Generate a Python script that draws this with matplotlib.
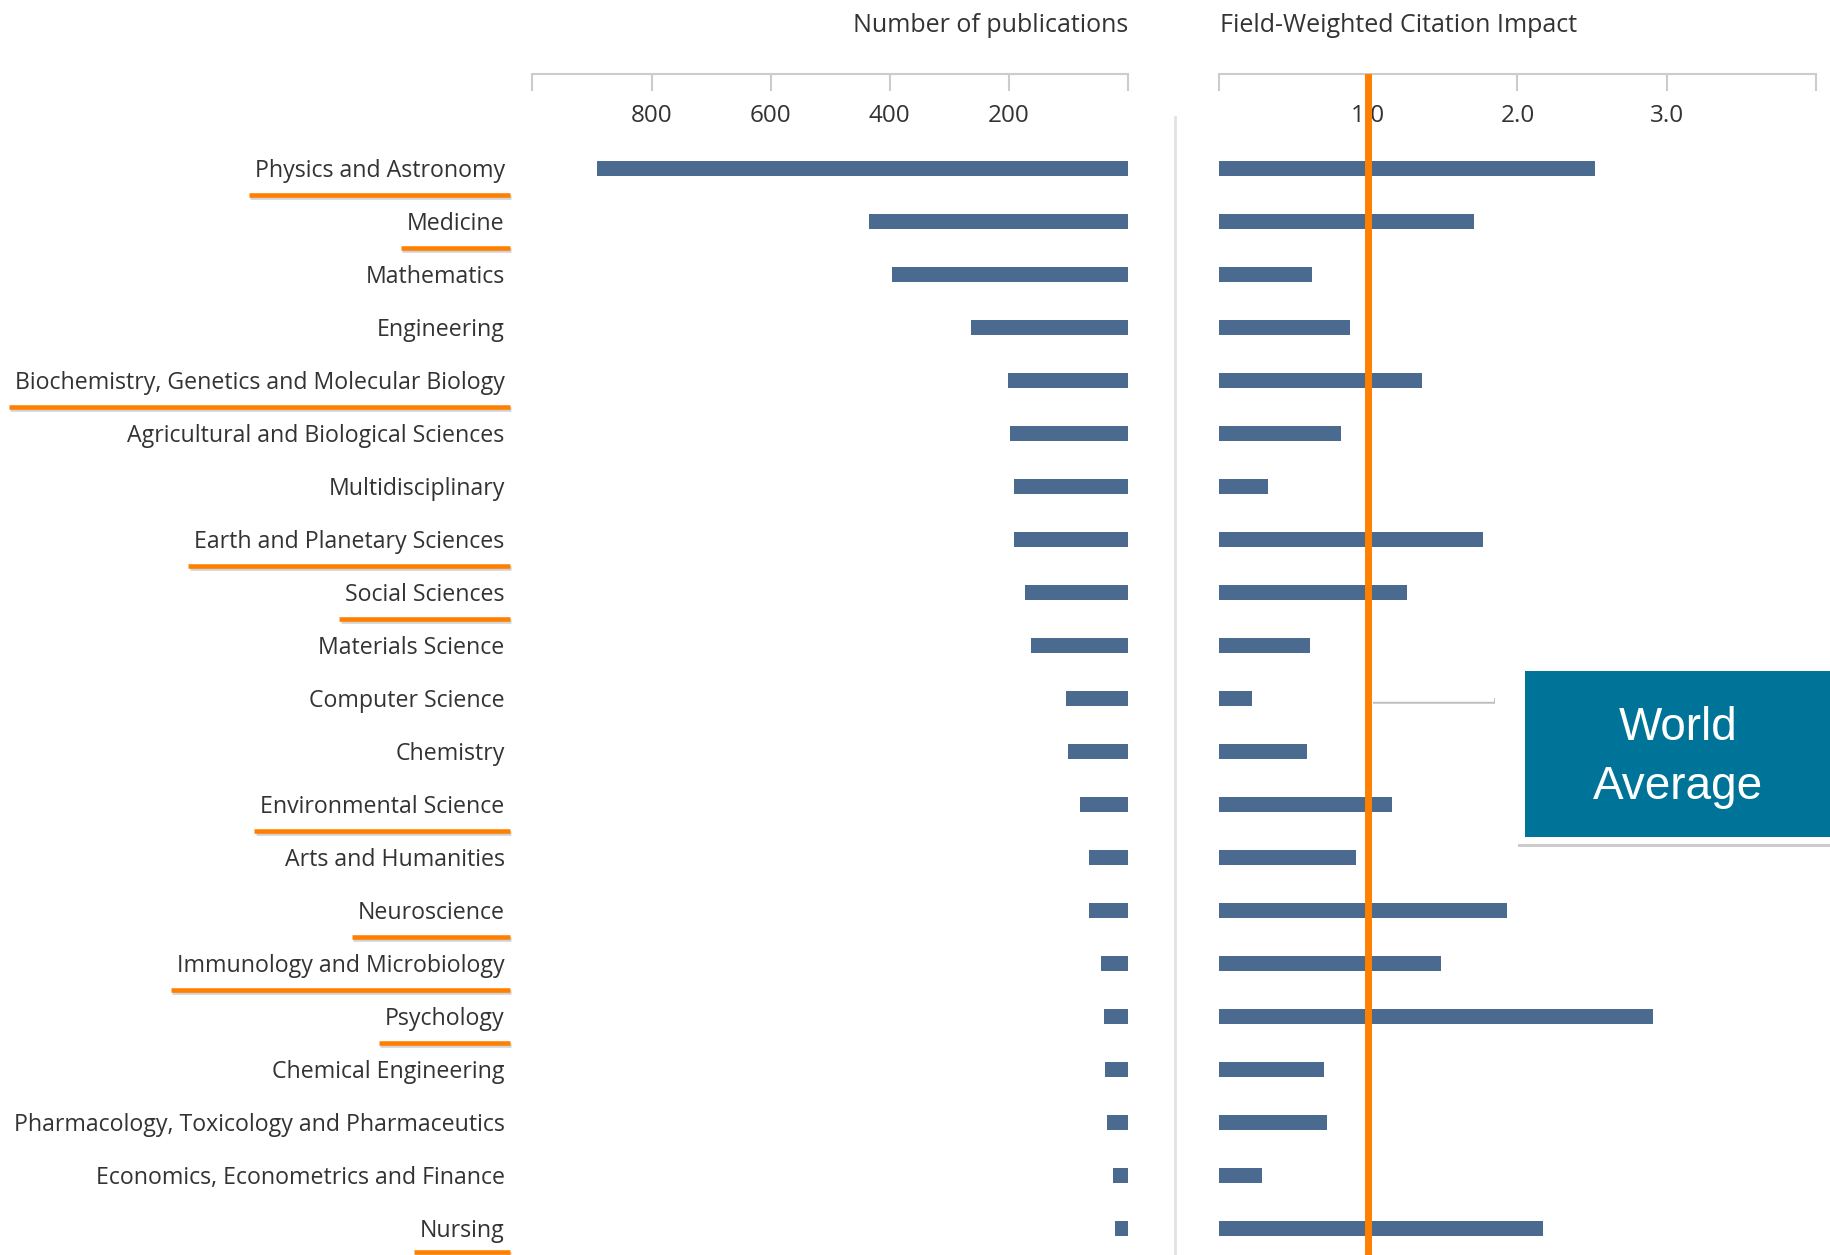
import matplotlib
matplotlib.use("Agg")
import matplotlib.pyplot as plt
from matplotlib.lines import Line2D
from matplotlib.patches import Rectangle
import matplotlib.patheffects as pe

# ---------------- data ----------------
categories = [
    "Physics and Astronomy", "Medicine", "Mathematics", "Engineering",
    "Biochemistry, Genetics and Molecular Biology", "Agricultural and Biological Sciences",
    "Multidisciplinary", "Earth and Planetary Sciences", "Social Sciences",
    "Materials Science", "Computer Science", "Chemistry", "Environmental Science",
    "Arts and Humanities", "Neuroscience", "Immunology and Microbiology", "Psychology",
    "Chemical Engineering", "Pharmacology, Toxicology and Pharmaceutics",
    "Economics, Econometrics and Finance", "Nursing",
]
publications = [892, 435, 396, 263, 202, 198, 192, 192, 173, 163, 104, 100, 80, 65, 65,
                45, 41, 39, 35, 25, 22]
fwci = [2.52, 1.71, 0.62, 0.88, 1.36, 0.82, 0.33, 1.77, 1.26, 0.61, 0.22, 0.59, 1.16,
        0.92, 1.93, 1.49, 2.91, 0.70, 0.72, 0.29, 2.17]
highlighted = ["Physics and Astronomy", "Medicine", "Biochemistry, Genetics and Molecular Biology",
               "Earth and Planetary Sciences", "Social Sciences", "Environmental Science",
               "Neuroscience", "Immunology and Microbiology", "Psychology", "Nursing"]
pub_ticks = [0, 200, 400, 600, 800, 1000]
pub_ticklabels = ["", "200", "400", "600", "800", ""]
fwci_ticks = [0, 1, 2, 3, 4]
fwci_ticklabels = ["", "1.0", "2.0", "3.0", ""]
world_average = 1.0
title_left = "Number of publications"
title_right = "Field-Weighted Citation Impact"
box_text = "World\nAverage"

# ---------------- style ----------------
plt.rcParams['font.family'] = ['Open Sans', 'DejaVu Sans']
BAR = '#4a6a90'
ORANGE = '#ff8000'
TEAL = '#007498'
TXT = '#333333'
GRID = '#cccccc'

W, H = 1568.0, 1075.0  # reference display coords
def fx(x): return x / W
def fy(y): return 1 - y / H

fig = plt.figure(figsize=(18.31, 12.55), dpi=100)
fig.patch.set_facecolor('white')

n = len(categories)
row0, row_step = 144.0, (1052.0 - 144.0) / (n - 1)
top_px, bot_px = 63.0, 1075.0
ylim = ((bot_px - row0) / row_step, (top_px - row0) / row_step)

axL = fig.add_axes([fx(456), 0, fx(966) - fx(456), fy(top_px)])
axR = fig.add_axes([fx(1044), 0, fx(1555) - fx(1044), fy(top_px)])

ypos = list(range(n))
axL.barh(ypos, publications, height=0.28, color=BAR, zorder=3)
axR.barh(ypos, fwci, height=0.28, color=BAR, zorder=3)

axL.set_xlim(1000, 0)
axR.set_xlim(0, 4)
for ax in (axL, axR):
    ax.set_ylim(*ylim)
    for s in ('left', 'right', 'bottom'):
        ax.spines[s].set_visible(False)
    ax.spines['top'].set_color(GRID)
    ax.spines['top'].set_linewidth(1.5)
    ax.xaxis.tick_top()
    ax.tick_params(axis='x', direction='in', length=12.5, width=1.5, color=GRID,
                   pad=-39, labelsize=17.5, labelcolor=TXT)
    ax.set_facecolor('none')

axL.set_xticks(pub_ticks)
axL.set_xticklabels(pub_ticklabels)
axR.set_xticks(fwci_ticks)
axR.set_xticklabels(fwci_ticklabels)

axL.set_yticks(ypos)
axL.set_yticklabels(categories)
axL.tick_params(axis='y', length=0, pad=20, labelsize=16.7, labelcolor=TXT)
axR.set_yticks([])

axR.axvline(world_average, ymin=0, ymax=1, color=ORANGE, lw=5, zorder=6)

# titles
fig.text(fx(966), fy(22), title_left, ha='right', va='center', fontsize=18, color=TXT)
fig.text(fx(1045), fy(22), title_right, ha='left', va='center', fontsize=18, color=TXT)

# separator
fig.add_artist(Line2D([fx(1006), fx(1006)], [fy(100), 0], color='#e2e2e2', lw=2))

# connector line
fig.add_artist(Line2D([fx(1175), fx(1279)], [fy(599), fy(599)], color='white', lw=4,
                      solid_capstyle='butt',
                      path_effects=[pe.SimpleLineShadow(offset=(1, -1.5), shadow_color='gray', alpha=0.5),
                                    pe.Normal()]))

# world average box
frame = Rectangle((fx(1299), fy(723)), fx(1600) - fx(1299), (723 - 569) / H,
                  transform=fig.transFigure, facecolor='white', edgecolor='none',
                  path_effects=[pe.SimplePatchShadow(offset=(1, -2), shadow_rgbFace='gray', alpha=0.4),
                                pe.Normal()])
fig.add_artist(frame)
inner = Rectangle((fx(1306), fy(717)), fx(1600) - fx(1306), (717 - 575) / H,
                  transform=fig.transFigure, facecolor=TEAL, edgecolor='none')
fig.add_artist(inner)
fig.text(fx(1437), fy(649), box_text, ha='center', va='center', fontsize=33,
         color='white', family=['Liberation Sans', 'DejaVu Sans'], linespacing=1.45)

# underlines for highlighted labels
fig.canvas.draw()
renderer = fig.canvas.get_renderer()
fw, fh = fig.bbox.width, fig.bbox.height
for lab in axL.get_yticklabels():
    if lab.get_text() in highlighted:
        bb = lab.get_window_extent(renderer)
        ymid = (bb.y0 + bb.y1) / 2.0
        yl = max(ymid - 23.5, 3.0)
        fig.add_artist(Line2D([(bb.x0 - 6) / fw, (bb.x1 + 5) / fw], [yl / fh, yl / fh],
                              color=ORANGE, lw=3.3, solid_capstyle='butt',
                              path_effects=[pe.SimpleLineShadow(offset=(1, -1.5), shadow_color='gray', alpha=0.35),
                                            pe.Normal()]))

fig.savefig('out.png', dpi=100, facecolor='white')
